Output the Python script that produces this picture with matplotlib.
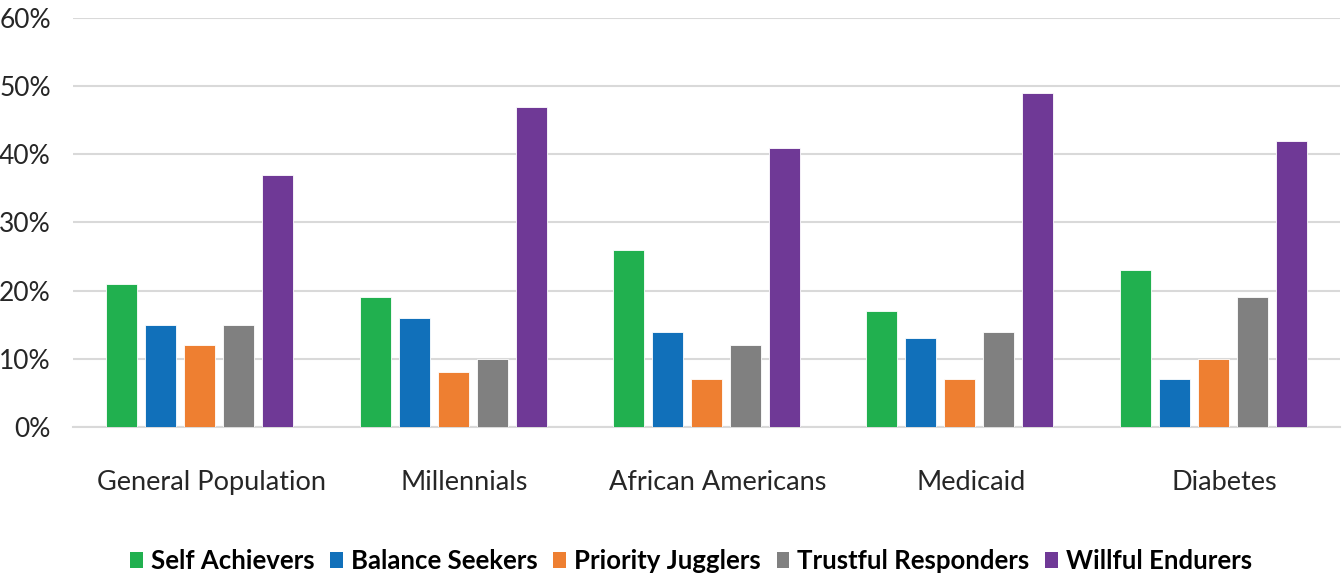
import numpy as np
from matplotlib import pyplot as plt
from matplotlib.patches import Patch

# segment shares by population group
groups = ["General Population", "Millennials", "African Americans", "Medicaid", "Diabetes"]
segments = ["Self Achievers", "Balance Seekers", "Priority Jugglers", "Trustful Responders", "Willful Endurers"]
self_achievers = [21, 19, 26, 17, 23]
balance_seekers = [15, 16, 14, 13, 7]
priority_jugglers = [12, 8, 7, 7, 10]
trustful_responders = [15, 10, 12, 14, 19]
willful_endurers = [37, 47, 41, 49, 42]
y_ticks = [0, 10, 20, 30, 40, 50, 60]

colors = ["#21B04F", "#1170BA", "#EE7F31", "#808080", "#6F3996"]
series = [self_achievers, balance_seekers, priority_jugglers, trustful_responders, willful_endurers]

plt.rcParams['font.family'] = ['Lato', 'DejaVu Sans']

fig = plt.figure(figsize=(13.43, 5.77), dpi=100)
ax = fig.add_axes([73/1343, 1 - 427/577, 1267/1343, 409/577])

x = np.arange(len(groups))
width = 0.122
step = 0.154
for i, (vals, c) in enumerate(zip(series, colors)):
  ax.bar(x + (i - 2) * step, np.array(vals) / 100, width, color=c,
         edgecolor="white", linewidth=0.6, zorder=3)

ax.set_xlim(-0.5, len(groups) - 0.5)
ax.set_ylim(0, 0.6)
ax.set_yticks([t / 100 for t in y_ticks])
ax.set_yticklabels([f"{t}%" for t in y_ticks], fontsize=19, color="#262626")
ax.set_xticks(x + 0.045)
ax.set_xticklabels(groups, fontsize=19.5, color="#262626")
ax.tick_params(axis="y", length=0, pad=16)
ax.tick_params(axis="x", length=0, pad=31)
ax.grid(axis="y", color="#D9D9D9", linewidth=1.5, zorder=0)
for s in ["top", "right", "left"]:
  ax.spines[s].set_visible(False)
ax.spines["bottom"].set_color("#D9D9D9")
ax.spines["bottom"].set_linewidth(1.5)

handles = [Patch(facecolor=c, label=s) for c, s in zip(colors, segments)]
fig.legend(handles=handles, loc="center", bbox_to_anchor=(691/1343, 1 - 561/577),
           ncol=5, frameon=False, prop={"weight": "bold", "size": 18.5},
           handlelength=0.5, handleheight=0.55, handletextpad=0.3, columnspacing=0.62)

plt.savefig("out.png", dpi=100)
